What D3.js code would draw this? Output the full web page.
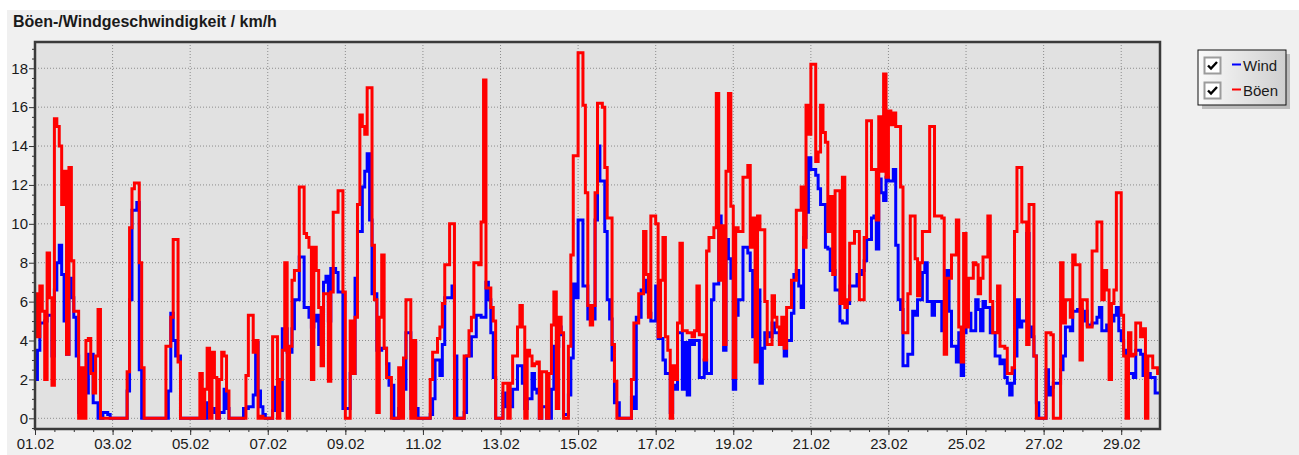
<!DOCTYPE html>
<html>
<head>
<meta charset="utf-8">
<script src="https://cdn.jsdelivr.net/npm/d3@7"></script>
<style>
body { margin: 0; background: #fff; }
svg { display: block; font-family: "Liberation Sans", Arial, sans-serif; }
</style>
</head>
<body>
<svg id="chart" width="1299" height="455"></svg>
<script>
// **** Data: samples every 1.5 h, starting 01.02 00:00 (16 per day) ****
const startDate = '01.02.2024';
const endDate = '01.03.2024';
const stepMinutes = 90;

// Böen (gusts), km/h - one line per day
const boeen = [
    6.4, 4.2, 6.8, 5.5, 2.0, 8.5, 6.2, 1.7, 15.4, 15.0, 14.0, 11.0, 12.7, 3.3, 12.9, 8.1,
    5.5, 5.5, 0, 2.6, 0, 4.0, 4.1, 2.3, 1.3, 3.2, 5.6, 0, 0, 0, 0, 0,
    0, 0, 0, 0, 0, 0, 2.4, 9.8, 11.8, 12.1, 12.1, 8.0, 2.6, 0, 0, 0,
    0, 0, 0, 0, 0, 0, 3.7, 3.7, 5.2, 9.2, 9.2, 2.9, 0, 0, 0, 0,
    0, 0, 0, 0, 2.3, 0, 1.5, 3.6, 0, 3.4, 2.1, 0, 2.0, 3.4, 3.2, 1.4,
    0, 0, 0, 0, 0, 0, 0, 2.2, 5.3, 5.3, 3.4, 4.0, 0, 0.1, 0, 0,
    0, 0, 4.2, 4.2, 0, 2.0, 3.5, 8.0, 0, 3.7, 7.1, 7.6, 7.6, 11.9, 11.9, 9.5,
    9.3, 8.8, 2.0, 8.8, 7.6, 5.7, 2.7, 6.4, 6.4, 1.9, 6.5, 10.6, 10.6, 11.7, 11.7, 6.5,
    0, 0, 5.0, 2.3, 5.2, 11.0, 15.6, 15.0, 14.6, 17.0, 17.0, 8.9, 6.1, 0.3, 5.2, 8.4,
    3.6, 2.1, 2.1, 0, 0, 0, 2.6, 0, 3.1, 6.1, 6.1, 0, 4.0, 0, 0, 0,
    0, 0, 0, 2.0, 3.4, 3.4, 4.1, 4.7, 5.9, 7.9, 7.9, 10.0, 10.0, 0, 0, 0,
    0, 3.2, 3.2, 4.5, 5.2, 8.0, 8.0, 7.9, 10.1, 17.4, 6.7, 6.7, 5.7, 5.0, 0, 0,
    0, 1.8, 1.8, 0, 1.8, 3.2, 3.2, 4.7, 5.8, 4.7, 0, 3.5, 3.2, 2.7, 2.8, 2.9,
    0, 2.4, 2.4, 0, 2.3, 4.8, 6.5, 0.5, 5.2, 4.4, 0, 0, 3.7, 8.4, 13.5, 13.5,
    18.8, 18.8, 16.1, 11.6, 5.8, 4.8, 5.8, 11.6, 16.2, 16.2, 16.0, 12.9, 10.3, 10.3, 3.8, 1.9,
    0, 0, 0, 0, 0, 0, 2.0, 4.9, 4.9, 6.4, 6.4, 9.6, 7.4, 5.2, 10.4, 10.4,
    10.0, 4.2, 7.1, 9.3, 4.2, 3.5, 0, 2.7, 2.0, 4.9, 9.0, 4.5, 4.5, 4.4, 4.4, 4.2,
    4.5, 6.8, 4.3, 4.3, 3.0, 8.6, 9.3, 9.3, 9.8, 16.7, 7.1, 9.9, 3.8, 12.7, 16.7, 10.9,
    2.1, 9.8, 9.6, 9.6, 12.4, 12.4, 13.0, 8.8, 10.3, 2.9, 10.4, 9.7, 9.7, 6.0, 3.8, 3.8,
    6.3, 5.2, 4.7, 3.8, 5.2, 3.6, 5.7, 5.7, 7.1, 7.1, 10.7, 10.7, 11.9, 8.8, 16.1, 14.6,
    18.2, 18.2, 13.2, 13.7, 16.1, 14.7, 14.2, 9.6, 11.4, 7.4, 11.7, 11.7, 5.9, 12.4, 5.7, 6.1,
    9.0, 9.0, 9.6, 9.6, 6.1, 6.1, 9.3, 15.3, 15.3, 12.8, 12.8, 10.2, 15.5, 12.7, 17.7, 12.4,
    15.8, 15.1, 15.7, 15.0, 15.0, 11.9, 4.4, 4.4, 6.4, 10.4, 10.4, 8.2, 6.3, 8.0, 9.6, 9.6,
    9.6, 15.0, 15.0, 10.4, 10.4, 10.4, 10.3, 3.3, 7.2, 7.2, 8.4, 8.4, 10.2, 4.7, 2.9, 9.5,
    4.7, 7.2, 7.2, 8.0, 7.9, 6.4, 7.2, 8.3, 8.3, 10.4, 6.0, 4.4, 4.4, 6.8, 3.7, 3.7,
    3.6, 2.3, 2.3, 2.6, 9.6, 12.9, 12.9, 10.1, 10.1, 3.8, 11.0, 11.0, 3.2, 0, 0, 0,
    0, 4.4, 4.4, 4.3, 0, 0, 0, 8.0, 4.9, 6.1, 6.1, 5.2, 8.4, 7.9, 7.9, 3.0,
    6.1, 6.1, 4.7, 4.7, 8.6, 8.6, 10.1, 10.1, 6.1, 7.6, 6.6, 2.0, 5.9, 6.6, 11.6, 11.6,
    5.3, 3.2, 0, 4.4, 3.2, 3.3, 4.9, 4.9, 4.2, 4.6, 0, 3.2, 3.2, 2.6, 2.6, 2.3
];

// Wind, km/h - one line per day
const wind = [
    2.0, 3.5, 4.9, 4.9, 5.0, 5.3, 5.3, 3.2, 6.6, 8.0, 8.9, 7.4, 5.0, 3.3, 7.2, 6.2,
    5.2, 3.2, 0.3, 2.1, 1.8, 1.3, 3.3, 3.3, 0.8, 0.8, 0, 0, 0.3, 0.3, 0.2, 0,
    0, 0, 0, 0, 0, 0, 1.4, 6.1, 10.7, 10.7, 11.1, 2.5, 0, 0, 0, 0,
    0, 0, 0, 0, 0, 0, 0, 1.4, 5.4, 4.0, 3.2, 3.2, 0, 0, 0, 0,
    0, 0, 0, 0, 0, 0, 0, 0.8, 0.3, 0.5, 0.3, 0, 0.3, 0.3, 1.5, 0.5,
    0, 0, 0, 0, 0, 0, 0.5, 0.5, 0.6, 0.6, 1.2, 3.9, 1.4, 0.6, 0.2, 0,
    0, 0, 0.4, 1.6, 1.6, 0.4, 4.6, 4.6, 3.4, 3.4, 4.6, 6.1, 6.1, 8.3, 8.3, 5.7,
    5.7, 5.2, 4.7, 5.0, 5.3, 3.8, 3.8, 7.0, 7.3, 5.0, 7.7, 7.7, 7.5, 6.5, 6.5, 0.5,
    0.5, 0.5, 2.3, 2.3, 7.2, 9.6, 9.6, 11.9, 12.7, 13.6, 10.2, 6.4, 6.4, 3.5, 3.5, 3.6,
    3.6, 2.8, 1.7, 1.7, 0, 0, 0.5, 0.5, 1.5, 4.4, 4.4, 0.5, 3.9, 0.5, 0, 0,
    0, 0, 0, 0.2, 1.0, 3.0, 3.0, 2.2, 3.8, 6.2, 6.2, 6.2, 6.8, 3.2, 0, 0,
    0, 0.3, 3.2, 3.2, 4.2, 4.2, 5.3, 5.3, 5.2, 5.2, 7.0, 6.1, 4.4, 2.1, 0, 0,
    0, 1.3, 0.6, 0.6, 0.6, 1.5, 1.5, 2.7, 2.7, 1.8, 0.5, 1.0, 1.0, 2.3, 1.5, 1.3,
    0, 0.6, 0.6, 0, 0, 1.5, 3.7, 3.7, 4.7, 4.3, 0.2, 0.2, 1.2, 3.1, 6.9, 6.2,
    10.2, 10.2, 6.8, 6.8, 5.1, 5.1, 5.1, 10.2, 14.0, 12.2, 12.2, 9.6, 6.1, 5.1, 3.0, 0.8,
    0.8, 0, 0, 0, 0, 0, 1.1, 0.5, 5.2, 5.2, 6.6, 6.5, 7.1, 5.4, 5.0, 5.0,
    6.8, 4.1, 4.1, 3.0, 2.3, 2.3, 0.3, 1.7, 1.5, 4.4, 4.4, 1.5, 3.9, 1.2, 4.0, 3.8,
    4.0, 4.0, 2.1, 2.1, 3.0, 2.3, 2.3, 6.1, 6.9, 6.9, 10.4, 7.4, 3.5, 9.2, 8.2, 7.2,
    1.5, 5.3, 6.1, 6.1, 8.8, 8.8, 8.5, 7.6, 4.2, 5.7, 6.6, 1.8, 3.6, 4.4, 4.4, 4.2,
    4.9, 4.4, 4.4, 4.0, 4.0, 3.2, 4.0, 4.0, 5.4, 7.4, 7.6, 6.8, 5.7, 9.3, 10.6, 13.4,
    12.8, 12.8, 12.5, 11.8, 11.0, 11.0, 8.8, 8.7, 7.6, 7.6, 6.6, 6.6, 5.0, 4.9, 4.9, 5.9,
    6.8, 6.8, 6.8, 7.4, 7.4, 7.6, 8.1, 9.2, 9.2, 10.3, 10.4, 8.7, 12.3, 11.6, 11.2, 12.4,
    12.2, 12.2, 12.8, 8.9, 6.1, 5.6, 2.7, 2.7, 3.3, 3.3, 5.5, 5.3, 6.1, 6.1, 7.5, 8.0,
    6.0, 6.0, 5.3, 6.0, 6.0, 6.0, 4.5, 5.8, 7.6, 5.5, 3.7, 3.7, 2.9, 4.4, 2.2, 4.4,
    5.4, 5.4, 4.5, 4.5, 6.1, 5.6, 4.5, 6.0, 5.7, 5.7, 4.4, 4.4, 3.2, 3.2, 2.8, 3.0,
    2.1, 1.8, 1.2, 1.8, 3.2, 6.1, 4.7, 5.0, 5.0, 9.5, 4.7, 4.2, 3.2, 0.8, 0, 0,
    0, 2.5, 1.2, 1.6, 1.8, 1.8, 1.8, 2.5, 3.2, 4.7, 4.7, 4.5, 5.5, 5.5, 5.6, 5.6,
    5.0, 5.5, 4.8, 4.8, 4.9, 4.9, 5.2, 5.7, 4.5, 4.5, 4.8, 4.8, 5.0, 5.3, 5.7, 4.5,
    4.0, 3.5, 3.2, 2.3, 2.3, 2.1, 3.5, 3.5, 3.3, 2.2, 2.3, 2.3, 2.1, 2.1, 1.3, 1.3
];

const xTickLabels = ['01.02', '03.02', '05.02', '07.02', '09.02', '11.02', '13.02',
    '15.02', '17.02', '19.02', '21.02', '23.02', '25.02', '27.02', '29.02'];
const yTickValues = [0, 2, 4, 6, 8, 10, 12, 14, 16, 18];
const seriesNames = ['Wind', 'Böen'];
const seriesColors = ['#0000ff', '#ff0000'];
const title = 'Böen-/Windgeschwindigkeit / km/h';

// **** Scales ****
const parseDay = d3.timeParse('%d.%m.%Y');
const t0 = parseDay(startDate);
const t1 = parseDay(endDate);

const plotLeft = 35, plotRight = 1160, plotTop = 42, plotBottom = 429;

const xScale = d3.scaleTime().domain([t0, t1]).range([plotLeft, plotRight]);
const yScale = d3.scaleLinear().domain([-0.55, 19.35]).range([plotBottom, plotTop]);

function toPoints(values) {
    const pts = values.map((v, i) => ({ t: d3.timeMinute.offset(t0, i * stepMinutes), v: v }));
    // hold the last value up to the end of the axis
    pts.push({ t: t1, v: values[values.length - 1] });
    return pts;
}

const svg = d3.select('#chart');

// panel background
svg.append('rect')
    .attr('x', 7).attr('y', 10)
    .attr('width', 1292).attr('height', 445)
    .attr('fill', '#f0f0f0');

svg.append('text')
    .attr('x', 13).attr('y', 26.5)
    .attr('font-size', 16)
    .attr('font-weight', 'bold')
    .attr('fill', '#1a1a1a')
    .text(title);

// plot area
svg.append('rect')
    .attr('x', plotLeft).attr('y', plotTop)
    .attr('width', plotRight - plotLeft).attr('height', plotBottom - plotTop)
    .attr('fill', '#e1e1e1');

// **** Grid ****
const xTickDates = xTickLabels.map(s => parseDay(s + '.2024'));

svg.append('g').selectAll('line')
    .data(xTickDates.slice(1))
    .enter().append('line')
    .attr('x1', d => xScale(d)).attr('x2', d => xScale(d))
    .attr('y1', plotTop).attr('y2', plotBottom)
    .attr('stroke', '#8c8c8c').attr('stroke-width', 1)
    .attr('stroke-dasharray', '1,2');

svg.append('g').selectAll('line')
    .data(yTickValues)
    .enter().append('line')
    .attr('x1', plotLeft).attr('x2', plotRight)
    .attr('y1', d => yScale(d)).attr('y2', d => yScale(d))
    .attr('stroke', '#8c8c8c').attr('stroke-width', 1)
    .attr('stroke-dasharray', '1,2');

// **** Lines ****
const line = d3.line()
    .x(d => xScale(d.t))
    .y(d => yScale(d.v))
    .curve(d3.curveStepAfter);

const plot = svg.append('g');
[wind, boeen].forEach((values, i) => {
    plot.append('path')
        .datum(toPoints(values))
        .attr('d', line)
        .attr('fill', 'none')
        .attr('stroke', seriesColors[i])
        .attr('stroke-width', 3)
        .attr('stroke-linejoin', 'miter');
});

// **** Axes ****
svg.append('g')
    .attr('transform', `translate(${plotLeft},0)`)
    .call(d3.axisLeft(yScale).tickValues(yTickValues).tickSize(6).tickPadding(1));
svg.append('g')
    .attr('transform', `translate(${plotLeft},0)`)
    .call(d3.axisLeft(yScale).tickValues(d3.range(-0.5, 19.5, 0.5).filter(v => v % 2 !== 0)).tickSize(3).tickFormat(''));

svg.append('g')
    .attr('transform', `translate(0,${plotBottom})`)
    .call(d3.axisBottom(xScale).tickValues(xTickDates).tickSize(6).tickPadding(3)
        .tickFormat(d3.timeFormat('%d.%m')));
svg.append('g')
    .attr('transform', `translate(0,${plotBottom})`)
    .call(d3.axisBottom(xScale).tickValues(d3.timeHour.every(12).range(t0, t1)).tickSize(3).tickFormat(''));

svg.selectAll('.domain').remove();
svg.selectAll('.tick line').attr('stroke', '#333');
svg.selectAll('.tick text').attr('font-size', 15).attr('fill', '#1a1a1a')
    .attr('font-family', '"Liberation Sans", Arial, sans-serif');

// frame
svg.append('rect')
    .attr('x', plotLeft).attr('y', plotTop)
    .attr('width', plotRight - plotLeft).attr('height', plotBottom - plotTop)
    .attr('fill', 'none')
    .attr('stroke', '#3a3a3a').attr('stroke-width', 2.5);

// **** Legend ****
const defs = svg.append('defs');
const grad = defs.append('linearGradient').attr('id', 'legendGrad')
    .attr('x1', '0%').attr('x2', '100%').attr('y1', '0%').attr('y2', '0%');
grad.append('stop').attr('offset', '0%').attr('stop-color', '#fafafa');
grad.append('stop').attr('offset', '100%').attr('stop-color', '#cfcfcf');

const legend = svg.append('g').attr('transform', 'translate(1198,50)');
legend.append('rect')
    .attr('x', 4).attr('y', 4).attr('width', 88).attr('height', 55)
    .attr('fill', '#9a9a9a').attr('opacity', 0.6);
legend.append('rect')
    .attr('width', 88).attr('height', 55)
    .attr('fill', 'url(#legendGrad)')
    .attr('stroke', '#111').attr('stroke-width', 1);

seriesNames.forEach((name, i) => {
    const g = legend.append('g').attr('transform', `translate(6,${7 + i * 25})`);
    g.append('rect').attr('x', 0.5).attr('y', 0.5).attr('width', 16).attr('height', 16)
        .attr('fill', '#fff').attr('stroke', '#9c9c9c').attr('stroke-width', 2);
    g.append('path')
        .attr('d', 'M4,8.5 L7,11.5 L13,5')
        .attr('fill', 'none').attr('stroke', '#000').attr('stroke-width', 2.4);
    g.append('line')
        .attr('x1', 28).attr('x2', 37).attr('y1', 7.5).attr('y2', 7.5)
        .attr('stroke', seriesColors[i]).attr('stroke-width', 2);
    g.append('text')
        .attr('x', 39).attr('y', 14)
        .attr('font-size', 15).attr('fill', '#1a1a1a')
        .text(name);
});
</script>
</body>
</html>
